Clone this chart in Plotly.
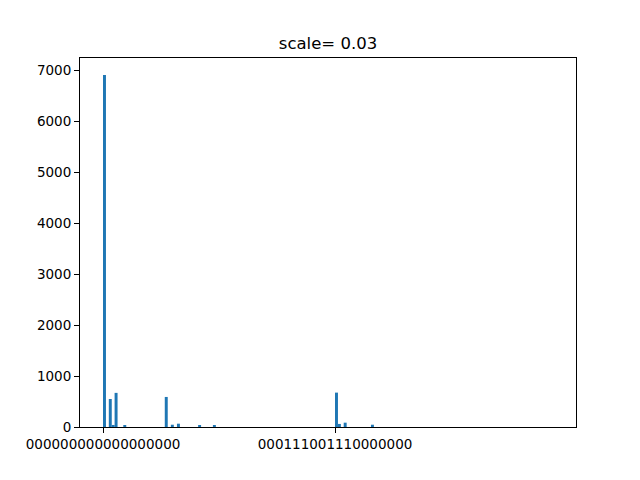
import plotly.graph_objects as go

# bin positions (left edges, in bin units) and counts
bins = [0, 2, 3, 4, 7, 21.3, 23.4, 25.5, 32.8, 37.9, 80, 81, 83, 92.4]
counts = [6910, 550, 40, 670, 25, 590, 45, 65, 25, 25, 675, 60, 85, 45]

tick_pos = [0, 80]
tick_labels = ["000000000000000000", "000111001110000000"]
y_ticks = [0, 1000, 2000, 3000, 4000, 5000, 6000, 7000]

fig = go.Figure(go.Bar(
    x=bins,
    y=counts,
    width=1.02,
    offset=0,
    marker=dict(color="#1f77b4", line=dict(width=0)),
))

axis_style = dict(
    showline=True, linecolor="black", linewidth=1, mirror=True,
    ticks="outside", ticklen=5, tickwidth=1, tickcolor="black",
    showgrid=False, zeroline=False,
    tickfont=dict(family="DejaVu Sans", size=13.5, color="black"),
)

# page body has an 8px margin, so the plot margins are shifted to compensate
fig.update_layout(
    width=640, height=480,
    margin=dict(l=72, r=72, t=50, b=61),
    paper_bgcolor="white", plot_bgcolor="white",
    showlegend=False,
    title=dict(text="scale= 0.03", x=0.5, xref="paper", y=1 - 35 / 480,
               yref="container", yanchor="middle",
               font=dict(family="DejaVu Sans", size=16.5, color="black")),
    xaxis=dict(range=[-7.93, 163.1], tickvals=tick_pos, ticktext=tick_labels, **axis_style),
    yaxis=dict(range=[0, 7245], tickvals=y_ticks, **axis_style),
)

fig.write_html("out.html")
